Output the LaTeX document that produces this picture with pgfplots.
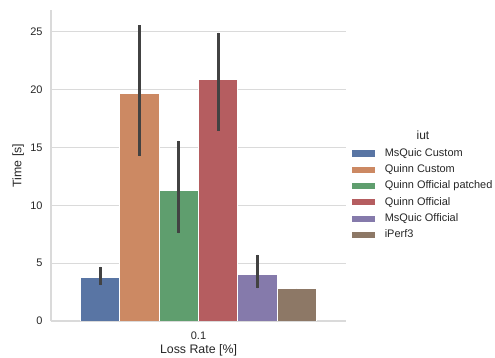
\documentclass[border=0pt]{standalone}
\usepackage{pgfplots}
\pgfplotsset{compat=1.18}
\usepackage{fontspec}
\setmainfont{Liberation Sans}
\definecolor{c1}{HTML}{5975A4}
\definecolor{c2}{HTML}{CC8963}
\definecolor{c3}{HTML}{5F9E6E}
\definecolor{c4}{HTML}{B55D60}
\definecolor{c5}{HTML}{857AAB}
\definecolor{c6}{HTML}{8D7866}
\definecolor{txt}{HTML}{262626}
\definecolor{errc}{HTML}{424242}
\definecolor{gridc}{HTML}{DADADA}
\pgfplotsset{
  mybar/.style={fill=#1, draw=white, line width=0.8bp, /pgf/bar shift=0pt,
    error bars/y dir=both, error bars/y explicit, error bars/error mark=none,
    error bars/error bar style={line width=2.7bp, color=errc},
    legend image code/.code={\fill[#1] (0bp,-2.6bp) rectangle (22bp,2.6bp);}},
}
\begin{document}
\begin{tikzpicture}
\useasboundingbox (-51bp,-37bp) rectangle (444bp,321bp);
\begin{axis}[
  at={(0,0)}, anchor=south west,
  scale only axis, width=295bp, height=311bp,
  xmin=-0.5, xmax=0.5, ymin=0, ymax=26.9,
  ybar, bar width=0.1333, 
  xtick={0}, xticklabels={0.1},
  ytick={0,5,10,15,20,25},
  major tick length=0pt,
  axis x line=bottom, axis y line=left,
  axis line style={-, color=gridc, line width=1.25bp},
  ymajorgrids, grid style={gridc, line width=1bp},
  tick label style={font=\fontsize{11}{13}\selectfont, text=txt},
  /pgf/number format/assume math mode=true,
  label style={font=\fontsize{12.4}{14}\selectfont, text=txt},
  xlabel={Loss Rate [\%]}, ylabel={Time [s]},
  xticklabel style={yshift=-7bp},
  yticklabel style={xshift=-5bp},
  xlabel style={yshift=2bp},
  ylabel style={yshift=-0.5bp},
  legend style={draw=none, fill=none, at={(1.0203,0.408)}, anchor=west,
    inner sep=0pt, outer sep=0pt,
    font=\fontsize{11}{13}\selectfont, text=txt, row sep=5.8bp, column sep=10bp,
    nodes={inner sep=0pt, text height=8bp, text depth=2.5bp}},
  legend cell align=left,
]
\addplot[mybar=c1] coordinates {(-0.3333,3.78) += (0,0.92) -= (0,0.67)};
\addlegendentry{MsQuic Custom}
\addplot[mybar=c2] coordinates {(-0.2,19.72) += (0,5.84) -= (0,5.45)};
\addlegendentry{Quinn Custom}
\addplot[mybar=c3] coordinates {(-0.0667,11.27) += (0,4.33) -= (0,3.69)};
\addlegendentry{Quinn Official patched}
\addplot[mybar=c4] coordinates {(0.0667,20.93) += (0,4.01) -= (0,4.49)};
\addlegendentry{Quinn Official}
\addplot[mybar=c5] coordinates {(0.2,4.07) += (0,1.67) -= (0,1.24)};
\addlegendentry{MsQuic Official}
\addplot[mybar=c6] coordinates {(0.3333,2.85) += (0,0) -= (0,0)};
\addlegendentry{iPerf3}
\end{axis}
\node[font=\fontsize{12}{14}\selectfont, text=txt] at (372bp,186bp) {iut};
\end{tikzpicture}
\end{document}
